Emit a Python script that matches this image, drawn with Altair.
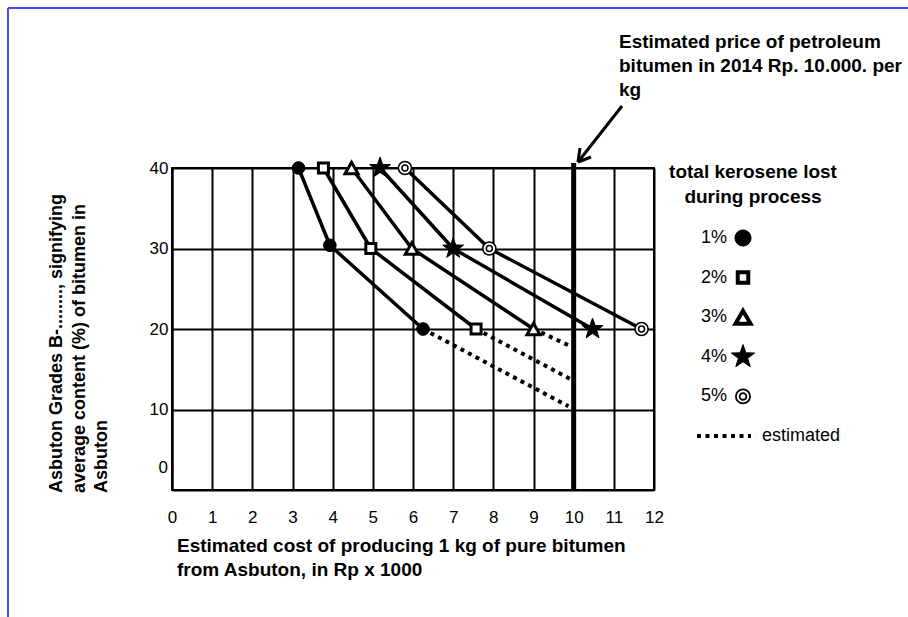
import math
import altair as alt
import pandas as pd

FONT = "Liberation Sans"

# ---------------- data ----------------
series = ["1%", "2%", "3%", "4%", "5%"]
grades = [40, 30, 20]
cost_1pct = [3.15, 3.93, 6.25]
grade_1pct = [40, 30.4, 20]
cost_2pct = [3.77, 4.95, 7.57]
cost_3pct = [4.47, 5.97, 9.0]
cost_4pct = [5.18, 7.0, 10.47]
cost_5pct = [5.8, 7.9, 11.69]

est_series = ["1%", "2%", "3%"]
est_start_cost = [6.25, 7.57, 9.0]
est_start_grade = [20, 20, 20]
est_end_cost = [9.87, 9.95, 9.95]
est_end_grade = [10.4, 13.7, 17.8]

price_line = [10]
x_ticks = list(range(0, 13))
y_ticks = [10, 20, 30, 40]
y_zero_label = ["0"]

legend_labels = ["1%", "2%", "3%", "4%", "5%"]

# ---------------- tables ----------------
rows = []
for s, xs, ys in [
    ("1%", cost_1pct, grade_1pct),
    ("2%", cost_2pct, grades),
    ("3%", cost_3pct, grades),
    ("4%", cost_4pct, grades),
    ("5%", cost_5pct, grades),
]:
    for i, (xv, yv) in enumerate(zip(xs, ys)):
        rows.append({"series": s, "cost": xv, "grade": yv, "idx": i})
df = pd.DataFrame(rows)

est_rows = []
for s, x0, y0, x1, y1 in zip(est_series, est_start_cost, est_start_grade, est_end_cost, est_end_grade):
    est_rows.append({"series": s, "cost": x0, "grade": y0, "idx": 0})
    est_rows.append({"series": s, "cost": x1, "grade": y1, "idx": 1})
df_est = pd.DataFrame(est_rows)

df_price = pd.DataFrame({"cost": price_line})
one = pd.DataFrame({"k": [0]})

# ---------------- encodings ----------------
x_axis = alt.Axis(values=x_ticks, title=None, grid=True, ticks=False,
                  labelFontSize=17, labelFont=FONT, labelColor="black",
                  labelPadding=19, labelAngle=0, labelFlush=False,
                  domainColor="black", domainWidth=2,
                  gridColor="black", gridWidth=2, gridOpacity=1)
y_axis = alt.Axis(values=y_ticks, title=None, grid=True, ticks=False,
                  labelFontSize=17, labelFont=FONT, labelColor="black",
                  labelPadding=4, labelFlush=False,
                  domainColor="black", domainWidth=2,
                  gridColor="black", gridWidth=2, gridOpacity=1)

xscale = alt.Scale(domain=[0, 12], nice=False, zero=False)
yscale = alt.Scale(domain=[0, 40], nice=False, zero=False)
X = alt.X("cost:Q", scale=xscale, axis=x_axis)
Y = alt.Y("grade:Q", scale=yscale, axis=y_axis)

lines = alt.Chart(df).mark_line(color="black", strokeWidth=3.5).encode(
    x=X, y=Y, detail="series:N")

est = alt.Chart(df_est).mark_line(color="black", strokeWidth=4, strokeDash=[4, 4.5]).encode(
    x=X, y=Y, detail="series:N")

price = alt.Chart(df_price).mark_rule(color="black", strokeWidth=5).encode(
    x=X, y=alt.value(322), y2=alt.value(-5))


def star_path(r_in=0.4):
    pts = []
    for k in range(10):
        r = 1.0 if k % 2 == 0 else r_in
        a = math.radians(-90 + 36 * k)
        pts.append(f"{r * math.cos(a):.3f},{r * math.sin(a):.3f}")
    return "M" + "L".join(pts) + "Z"


STAR = star_path()
RING = "M-1,0A1,1,0,1,1,1,0A1,1,0,1,1,-1,0Z"

marker_style = {
    "1%": [dict(shape="circle", fill="black", stroke="black", size=160, strokeWidth=1)],
    "2%": [dict(shape="square", fill="white", stroke="black", size=100, strokeWidth=3)],
    "3%": [dict(shape="triangle-up", fill="white", stroke="black", size=170, strokeWidth=3)],
    "4%": [dict(shape=STAR, fill="black", stroke="black", size=480, strokeWidth=1)],
    "5%": [dict(shape=RING, fill="white", stroke="black", size=170, strokeWidth=1.5),
           dict(shape=RING, fill="white", stroke="black", size=36, strokeWidth=1.5)],
}
legend_style = {
    "1%": [dict(shape="circle", fill="black", stroke="black", size=260, strokeWidth=1)],
    "2%": [dict(shape="square", fill="white", stroke="black", size=110, strokeWidth=4)],
    "3%": [dict(shape="triangle-up", fill="white", stroke="black", size=230, strokeWidth=4)],
    "4%": [dict(shape=STAR, fill="black", stroke="black", size=600, strokeWidth=1)],
    "5%": [dict(shape=RING, fill="white", stroke="black", size=200, strokeWidth=1.8),
           dict(shape=RING, fill="white", stroke="black", size=45, strokeWidth=1.8)],
}

point_layers = []
for s in series:
    for st in marker_style[s]:
        point_layers.append(
            alt.Chart(df).transform_filter(alt.datum.series == s).mark_point(
                opacity=1, fillOpacity=1, **st).encode(x=X, y=Y))


def txt(text, x, y, size, bold=False, align="left", baseline="middle", angle=None, color="black"):
    kw = dict(text=text, fontSize=size, font=FONT, fontWeight="bold" if bold else "normal",
              align=align, baseline=baseline, color=color)
    if angle is not None:
        kw["angle"] = angle
    return alt.Chart(one).mark_text(**kw).encode(x=alt.value(x), y=alt.value(y))


def seg(x1, y1, x2, y2, width, color="black", dash=None):
    kw = dict(color=color, strokeWidth=width)
    if dash is not None:
        kw["strokeDash"] = dash
    return alt.Chart(one).mark_rule(**kw).encode(
        x=alt.value(x1), y=alt.value(y1), x2=alt.value(x2), y2=alt.value(y2))


deco = []
deco.append(seg(-164, -160, -164, 449, 2, color="#4a4af0"))
deco.append(seg(-164, -160, 736, -160, 2, color="#4a4af0"))

deco.append(txt(y_zero_label[0], -4, 300, 17, align="right"))

deco.append(txt("Estimated price of petroleum", 447, -126, 19, bold=True))
deco.append(txt("bitumen in 2014 Rp. 10.000. per", 447, -102, 19, bold=True))
deco.append(txt("kg", 447, -78, 19, bold=True))
deco.append(seg(450, -62, 406, -6, 3))
deco.append(seg(406, -6, 419, -11, 3))
deco.append(seg(406, -6, 408, -20, 3))

deco.append(txt("Estimated cost of producing 1 kg of pure bitumen", 5, 378, 19, bold=True))
deco.append(txt("from Asbuton, in Rp x 1000", 5, 402, 19, bold=True))

deco.append(txt("Asbuton Grades B-........, signifying", -115, 325, 18, bold=True, angle=270))
deco.append(txt("average content (%) of bitumen in", -92, 325, 18, bold=True, angle=270))
deco.append(txt("Asbuton", -70, 325, 18, bold=True, angle=270))

deco.append(txt("total kerosene lost", 581, 4, 19, bold=True, align="center"))
deco.append(txt("during process", 581, 29, 19, bold=True, align="center"))
legend_top, legend_step = 70, 39.6
for i, lab in enumerate(legend_labels):
    yy = legend_top + i * legend_step
    deco.append(txt(lab, 555, yy, 18, align="right"))
    for st in legend_style[lab]:
        deco.append(alt.Chart(one).mark_point(opacity=1, fillOpacity=1, **st).encode(
            x=alt.value(571), y=alt.value(yy)))
yy = legend_top + 5 * legend_step
deco.append(seg(525, yy, 579, yy, 4, dash=[4, 4.5]))
deco.append(txt("estimated", 590, yy, 18))

chart = alt.layer(lines, est, price, *point_layers, *deco).properties(
    width=482, height=322,
    autosize=alt.AutoSizeParams(type="none"),
    padding={"left": 172, "top": 168, "right": 254, "bottom": 127},
    background="white",
).configure_view(stroke="black", strokeWidth=2)

chart.save("out.html", embed_options={"renderer": "svg", "actions": False})
